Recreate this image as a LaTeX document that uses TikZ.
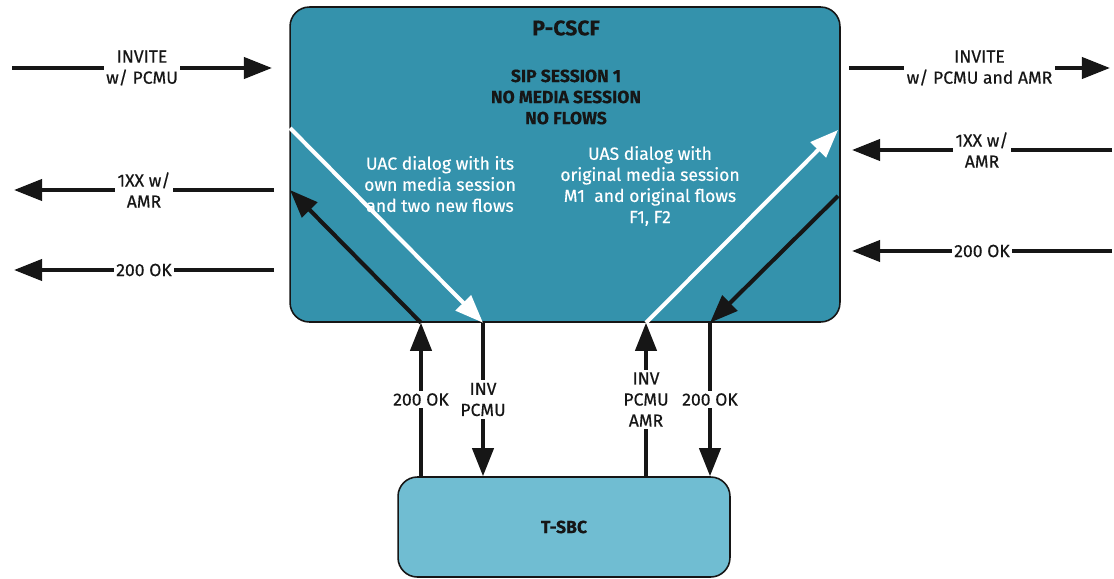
\documentclass[tikz,border=0pt]{standalone}
\usepackage{fontspec}
\setmainfont{Fira Sans}[FakeBold=0.4]
\usetikzlibrary{arrows.meta,calc}
\definecolor{cscfteal}{RGB}{52,146,172}
\definecolor{sbcblue}{RGB}{112,189,210}
\definecolor{inkdark}{RGB}{22,22,22}
\tikzset{
  box/.style={
    draw=inkdark,
    line width=.9pt,
    rounded corners=11pt
  },
  title/.style={
    font=\bfseries,
    text=inkdark,
    align=center
  },
  note/.style={
    text=white,
    align=center
  },
  msg/.style={
    fill=white,
    inner sep=1.5pt,
    align=center,
    text=inkdark
  },
  sig/.style={
    -{Triangle[length=16pt,width=12pt]},
    line width=2.3pt,
    inkdark
  },
  wsig/.style={
    sig,
    white
  }
}

\begin{document}
\begin{tikzpicture}[x=.02cm,y=-.02cm]
\useasboundingbox (0,0) rectangle (1114,578);
% the two boxes
\node[box,fill=cscfteal,minimum width=11cm,minimum height=6.3cm] (pcscf) at (565,164.5) {};
\node[box,fill=sbcblue,minimum width=6.64cm,minimum height=2cm] (tsbc) at (564,527) {};
\node[title,font=\large\bfseries] (pname) at (566,28) {P-CSCF};
\node[title] (sess) at (566,97) {SIP SESSION 1\\NO MEDIA SESSION\\NO FLOWS};
\node[title] (sname) at (tsbc) {T-SBC};
\node[note] (uac) at (440,184) {UAC dialog with its\\own media session\\and two new flows};
\node[note] (uas) at (650,186) {UAS dialog with\\original media session\\M1\ \ and original flows\\F1, F2};

% points on the edges of P-CSCF
\coordinate (lin) at (290,128);
\coordinate (lout) at (290,190);
\coordinate (rout) at (838,130);
\coordinate (rin) at (838,196);
\coordinate (okl) at (pcscf.south -| 421,0);
\coordinate (invl) at (pcscf.south -| 483,0);
\coordinate (invr) at (pcscf.south -| 646,0);
\coordinate (okr) at (pcscf.south -| 710,0);

% outer ends
\coordinate (a1) at (12,68);
\coordinate (a2) at (272,68);
\coordinate (b1) at (274,190);
\coordinate (b2) at (14,190);
\coordinate (c1) at (274,270);
\coordinate (c2) at (14,270);
\coordinate (d1) at (849,68);
\coordinate (d2) at (1110,68);
\coordinate (e1) at (1112,150);
\coordinate (e2) at (852,150);
\coordinate (f1) at (1112,251);
\coordinate (f2) at (852,251);

% left side
\draw[sig] (a1) -- node[msg] {INVITE\\w/ PCMU} (a2);
\draw[sig] (b1) -- node[msg] {1XX w/\\AMR} (b2);
\draw[sig] (c1) -- node[msg] {200 OK} (c2);

% right side
\draw[sig] (d1) -- node[msg] {INVITE\\w/ PCMU and AMR} (d2);
\draw[sig] (e1) -- node[msg] {1XX w/\\AMR} (e2);
\draw[sig] (f1) -- node[msg] {200 OK} (f2);

% through the P-CSCF
\draw[wsig] (lin) -- (invl);
\draw[sig] (invl) -- node[msg] {INV\\PCMU} (invl |- tsbc.north);
\draw[sig] (okl |- tsbc.north) -- node[msg] {200 OK} (okl);
\draw[sig] (okl) -- (lout);
\draw[sig] (invr |- tsbc.north) -- node[msg] {INV\\PCMU\\AMR} (invr);
\draw[wsig] (invr) -- (rout);
\draw[sig] (rin) -- (okr);
\draw[sig] (okr) -- node[msg] {200 OK} (okr |- tsbc.north);
\end{tikzpicture}
\end{document}
